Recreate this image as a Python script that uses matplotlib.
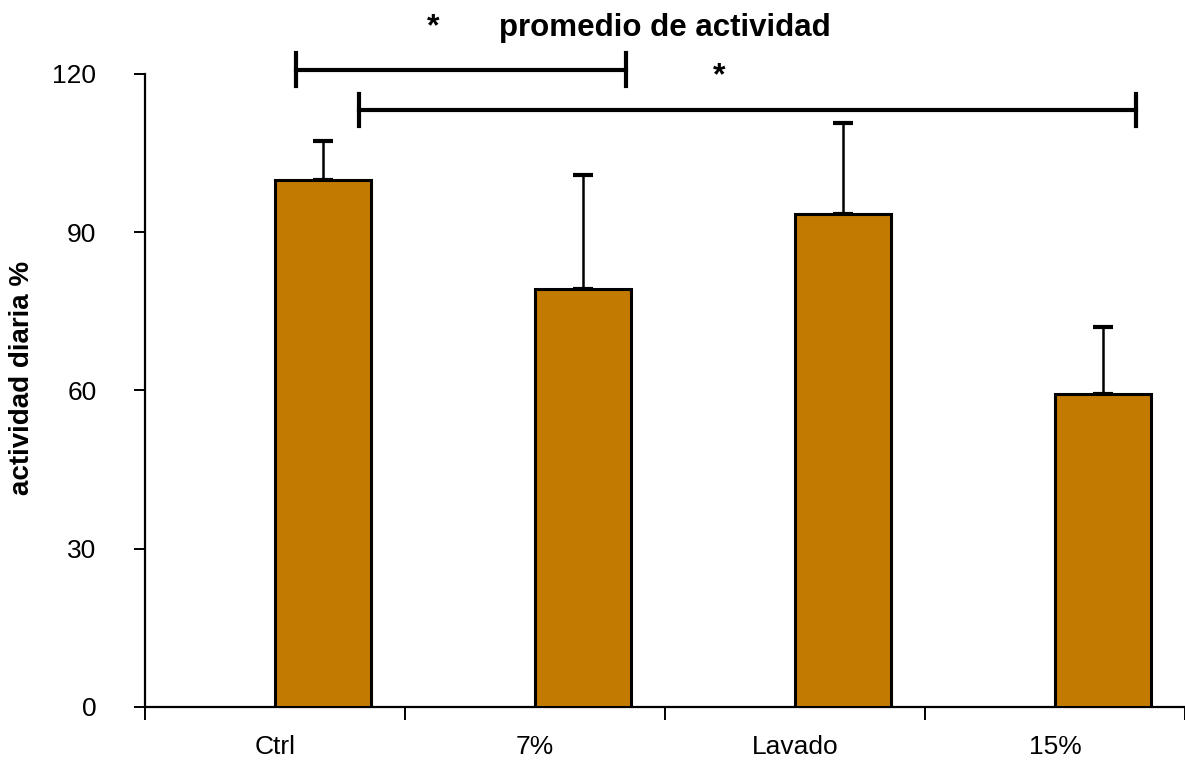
import numpy as np
import matplotlib.pyplot as plt

plt.rcParams['font.family'] = ['Liberation Sans', 'DejaVu Sans']

# data
categories = ['Ctrl', '7%', 'Lavado', '15%']
means = [99.9, 79.2, 93.5, 59.3]
upper_err = [7.4, 21.7, 17.2, 12.8]
yticks = [0, 30, 60, 90, 120]

fig = plt.figure(figsize=(11.85, 7.62), dpi=100)
ax = fig.add_axes([0.1224, 0.0722, 0.8776, 0.8307])

x = np.arange(len(categories))
width = 0.37
ax.bar(x, means, width=width, align='edge', color='#C27A00',
       edgecolor='black', linewidth=2.2, zorder=3)
ax.errorbar(x + width / 2, means, yerr=[np.zeros(len(means)), upper_err],
            fmt='none', ecolor='black', elinewidth=1.8, capsize=7,
            capthick=3, zorder=2)

ax.set_xlim(-0.5, 3.5)
ax.set_ylim(0, 120)
ax.set_yticks(yticks)
ax.tick_params(axis='y', labelsize=19, length=8, width=1.4, pad=27)

# category boundaries as major ticks, labels on minor ticks
ax.set_xticks(np.arange(-0.5, 4.0, 1.0))
ax.set_xticklabels([])
ax.set_xticks(x, minor=True)
ax.set_xticklabels(categories, minor=True)
ax.tick_params(axis='x', which='major', length=9, width=1.4)
ax.tick_params(axis='x', which='minor', length=0, labelsize=19, pad=20)

for s in ['top', 'right']:
    ax.spines[s].set_visible(False)
for s in ['left', 'bottom']:
    ax.spines[s].set_linewidth(1.6)
ax.spines['bottom'].set_clip_on(False)

ax.set_ylabel('actividad diaria %', fontsize=20, fontweight='bold')
ax.yaxis.set_label_coords(-0.106, 0.52)

# significance brackets
def bracket(x0, x1, y, h=3.1):
    ax.plot([x0, x1], [y, y], color='black', lw=3, clip_on=False)
    ax.plot([x0, x0], [y - h, y + h], color='black', lw=3, clip_on=False)
    ax.plot([x1, x1], [y - h, y + h], color='black', lw=3, clip_on=False)

bracket(0.079, 1.35, 120.8)
bracket(0.324, 3.31, 113.2)
ax.text(0.61, 128.9, '*', fontsize=23, fontweight='bold', ha='center', va='center')
ax.text(1.71, 119.5, '*', fontsize=23, fontweight='bold', ha='center', va='center')

fig.text(0.561, 0.963, 'promedio de actividad', fontsize=22.5, fontweight='bold',
         ha='center', va='center')

fig.savefig('out.png', dpi=100)
